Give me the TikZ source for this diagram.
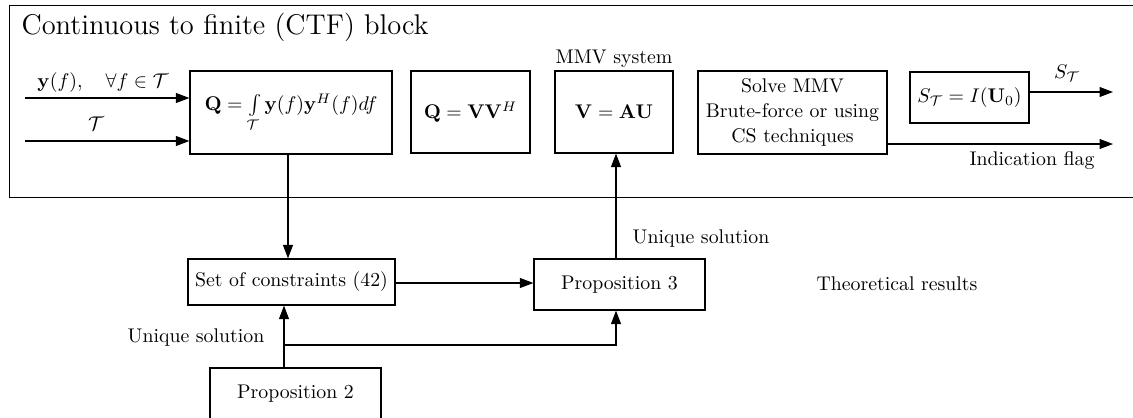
\documentclass[tikz,border=0pt]{standalone}
\usetikzlibrary{arrows.meta}
\begin{document}
\begin{tikzpicture}[x=0.505pt,y=-0.505pt, line width=0.6pt,
  >={Triangle[length=6.8pt,width=5pt]},
  blk/.style={draw, inner sep=0pt, align=center},
  lbl/.style={inner sep=0pt}]
\useasboundingbox (0,0) rectangle (1133,417);
\clip (0,0) rectangle (1133,417);
% frame
\node[draw, inner sep=0pt, anchor=north west, minimum width=1140*0.505pt, minimum height=192*0.505pt] (frame) at (9,5) {};
\node[lbl, anchor=base west, font=\fontsize{14.4}{17}\selectfont] (title) at (21,35) {Continuous to finite (CTF) block};
% top boxes
\node[blk, minimum width=202*0.505pt, minimum height=83*0.505pt] (Q) at (291,112.5) {$\mathbf{Q}=\int\limits_{\mathcal{T}}\mathbf{y}(f)\mathbf{y}^H(f)df$};
\node[blk, minimum width=119*0.505pt, minimum height=82*0.505pt] (QV) at (470.5,112) {$\mathbf{Q}=\mathbf{V}\mathbf{V}^H$};
\node[blk, minimum width=118*0.505pt, minimum height=82*0.505pt] (V) at (614,112) {$\mathbf{V}=\mathbf{A}\mathbf{U}$};
\node[blk, minimum width=189*0.505pt, minimum height=83*0.505pt, font=\fontsize{10}{12.6}\selectfont] (Solve) at (792.5,112.5) {Solve MMV\\Brute-force or using\\CS techniques};
\node[blk, minimum width=119*0.505pt, minimum height=51*0.505pt] (S) at (969.5,97.5) {$S_{\mathcal{T}}=I(\mathbf{U}_0)$};
% lower boxes
\node[blk, minimum width=207*0.505pt, minimum height=46*0.505pt] (C) at (291.5,282) {Set of constraints (42)};
\node[blk, minimum width=171*0.505pt, minimum height=51*0.505pt] (P3) at (619.5,284.5) {Proposition 3};
\node[blk, minimum width=171*0.505pt, minimum height=51*0.505pt] (P2) at (295.5,393.5) {Proposition 2};
% labels
\node[lbl] (ly) at (103,83) {$\mathbf{y}(f),\quad\forall f\in\mathcal{T}$};
\node[lbl] (lT) at (96,124) {$\mathcal{T}$};
\node[lbl, anchor=base] (lmmv) at (614,63) {MMV system};
\node[lbl] (lS) at (1067,73) {$S_{\mathcal{T}}$};
\node[lbl, anchor=base] (lflag) at (1032,165) {Indication flag};
\node[lbl, anchor=base] (lu1) at (701,243) {Unique solution};
\node[lbl, anchor=base] (lu2) at (196,342) {Unique solution};
\node[lbl, anchor=base] (lth) at (897,290) {Theoretical results};
% connectors
\coordinate (in1) at (25,98);
\coordinate (in2) at (25,141);
\draw[->] (in1) -- (in1 -| Q.west);
\draw[->] (in2) -- (in2 -| Q.west);
\coordinate (sOut) at (1113,92);
\draw[->] (S.east |- sOut) -- (sOut);
\coordinate (fOut) at (1113,144);
\draw[->] (Solve.east |- fOut) -- (fOut);
\coordinate (qd) at (288,0);
\draw[->] (Q.south -| qd) -- (C.north -| qd);
\coordinate (ch) at (0,283);
\draw[->] (C.east |- ch) -- (P3.west |- ch);
\coordinate (pv) at (616,0);
\draw[->] (P3.north -| pv) -- (V.south -| pv);
\coordinate (p2v) at (284,345);
\draw[->] (P2.north -| p2v) -- (C.south -| p2v);
\draw[->] (p2v) -| (P3.south -| pv);
\end{tikzpicture}
\end{document}
